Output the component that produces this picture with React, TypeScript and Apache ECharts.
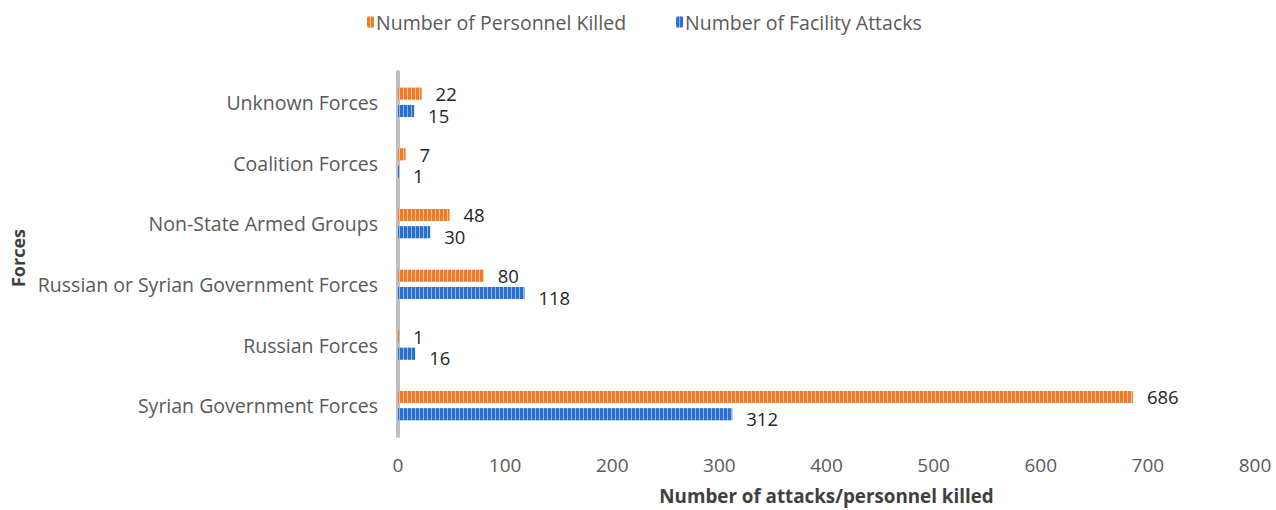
import React, { useEffect, useRef } from "react";
import * as echarts from "echarts";

const categories = [
  "Syrian Government Forces",
  "Russian Forces",
  "Russian or Syrian Government Forces",
  "Non-State Armed Groups",
  "Coalition Forces",
  "Unknown Forces",
];
const personnelKilled = [686, 1, 80, 48, 7, 22];
const facilityAttacks = [312, 16, 118, 30, 1, 15];
const xTicks = { min: 0, max: 800, interval: 100 };

const FONT = "'Open Sans', sans-serif";

export default function App() {
  const ref = useRef<HTMLDivElement>(null);
  useEffect(() => {
    if (!ref.current) return;
    const chart = echarts.init(ref.current, null, { renderer: "svg" });
    const label = (dy: number) => ({
      show: true,
      position: "right" as const,
      distance: 14,
      color: "#262626",
      fontSize: 18.5,
      lineHeight: 14,
      fontFamily: FONT,
      offset: [0, dy],
    });
    chart.setOption({
      animation: false,
      textStyle: { fontFamily: FONT },
      legend: {
        top: 7,
        left: 362,
        itemWidth: 7,
        itemHeight: 11,
        itemGap: 50,
        data: ["Number of Personnel Killed", "Number of Facility Attacks"],
        textStyle: { color: "#595959", fontSize: 19.5, fontFamily: FONT, padding: [0, 0, 0, -3] },
      },
      grid: { left: 398, width: 857, top: 72, height: 366, containLabel: false },
      xAxis: {
        type: "value",
        min: xTicks.min,
        max: xTicks.max,
        interval: xTicks.interval,
        name: "Number of attacks/personnel killed",
        nameLocation: "middle",
        nameGap: 50,
        nameTextStyle: { color: "#404040", fontSize: 18.8, fontWeight: "bold", fontFamily: FONT },
        axisLine: { show: false },
        axisTick: { show: false },
        splitLine: { show: false },
        axisLabel: { color: "#595959", fontSize: 19, margin: 19, fontFamily: FONT },
      },
      yAxis: {
        type: "category",
        data: categories,
        name: "Forces",
        nameLocation: "middle",
        nameGap: 369,
        nameRotate: 90,
        nameTextStyle: { color: "#404040", fontSize: 18, fontWeight: "bold", fontFamily: FONT, padding: [0, 0, 0, -8] },
        axisLine: { show: true, lineStyle: { color: "#bfbfbf", width: 4 } },
        axisTick: { show: false },
        axisLabel: { color: "#595959", fontSize: 19.5, margin: 20, fontFamily: FONT },
      },
      series: [
        {
          name: "Number of Personnel Killed",
          type: "bar",
          data: personnelKilled,
          barWidth: 12,
          barGap: "45%",
          itemStyle: {
            color: "#fbc39a",
            decal: {
              symbol: "rect",
              symbolSize: 1,
              color: "#f07a2a",
              dashArrayX: [3, 1],
              dashArrayY: [2, 0],
              rotation: 0,
            },
          },
          label: label(0),
        },
        {
          name: "Number of Facility Attacks",
          type: "bar",
          data: facilityAttacks,
          barWidth: 12,
          barGap: "45%",
          itemStyle: {
            color: "#8fb8ec",
            decal: {
              symbol: "rect",
              symbolSize: 1,
              color: "#2a6fcf",
              dashArrayX: [3, 1],
              dashArrayY: [2, 0],
              rotation: 0,
            },
          },
          label: label(4),
        },
      ],
    });
    return () => chart.dispose();
  }, []);
  return (
    <div
      ref={ref}
      style={{ position: "fixed", left: 0, top: 0, width: 1276, height: 510, background: "#fff" }}
    />
  );
}
